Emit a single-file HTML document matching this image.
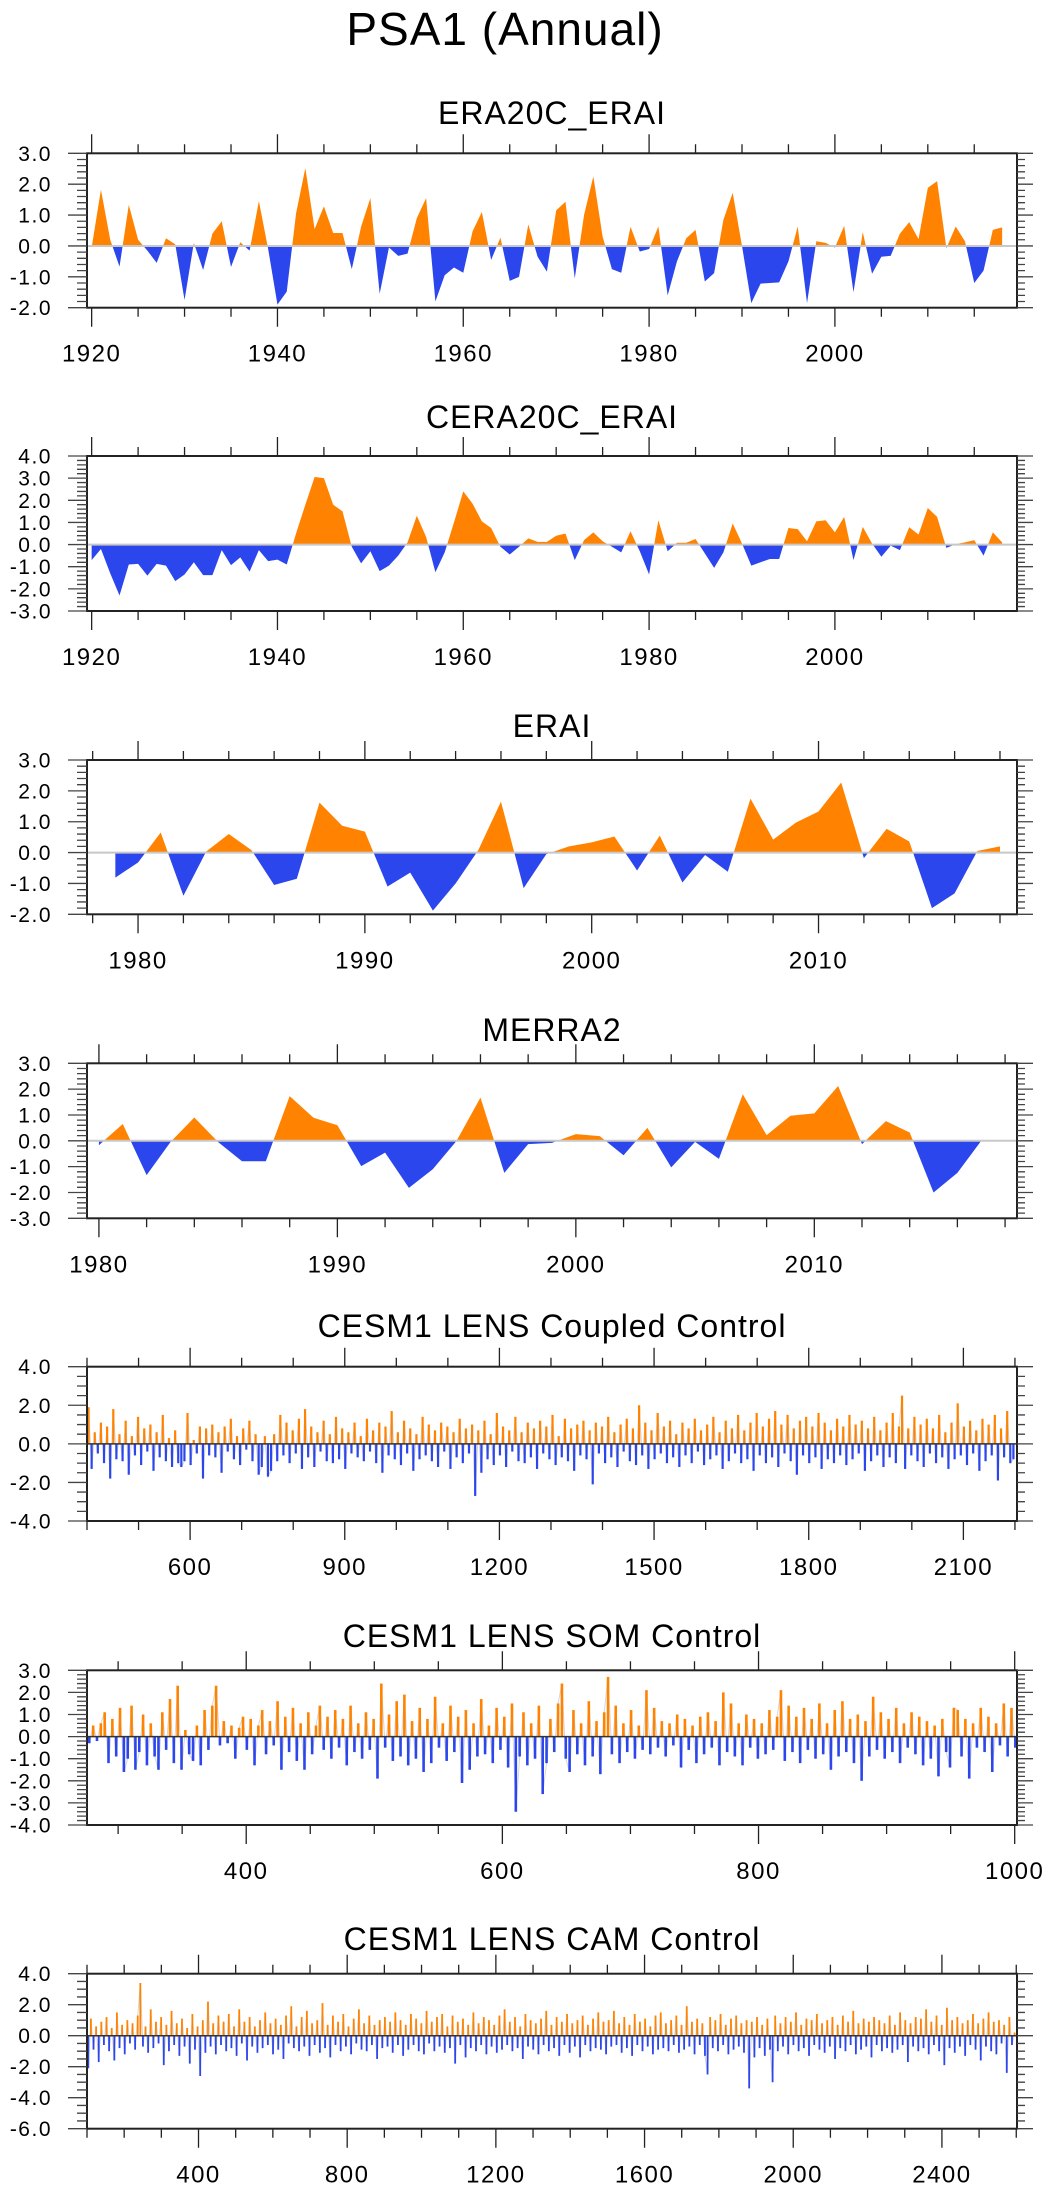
<!DOCTYPE html>
<html><head><meta charset="utf-8">
<style>
html,body{margin:0;padding:0;background:#fff;}
svg{display:block;font-family:"Liberation Sans",sans-serif;}
.ttl{font-size:32px;letter-spacing:1px;text-anchor:middle;fill:#000;}
.main{font-size:46px;letter-spacing:1px;text-anchor:middle;fill:#000;}
.yl{font-size:21px;letter-spacing:1.5px;text-anchor:end;fill:#000;}
.xl{font-size:24px;letter-spacing:1.5px;text-anchor:middle;fill:#000;}
</style></head>
<body>
<svg id="chart" width="1049" height="2192" viewBox="0 0 1049 2192" xmlns="http://www.w3.org/2000/svg">
<rect x="0" y="0" width="1049" height="2192" fill="#fff"/>
<text class="main" x="505" y="45">PSA1 (Annual)</text>
<text class="ttl" x="552" y="124">ERA20C_ERAI</text>
<text class="ttl" x="552" y="428">CERA20C_ERAI</text>
<text class="ttl" x="552" y="737">ERAI</text>
<text class="ttl" x="552" y="1041">MERRA2</text>
<text class="ttl" x="552" y="1337">CESM1 LENS Coupled Control</text>
<text class="ttl" x="552" y="1647">CESM1 LENS SOM Control</text>
<text class="ttl" x="552" y="1950">CESM1 LENS CAM Control</text>
</svg>
<script>
// ---- data ----
const era20cStart = 1920;
const era20cVals = [-0.05,1.82,0.2,-0.67,1.33,0.2,-0.15,-0.55,0.25,0.05,-1.75,0.1,-0.78,0.4,0.8,-0.68,0.12,-0.15,1.45,-0.1,-1.9,-1.48,1.05,2.52,0.55,1.28,0.42,0.42,-0.75,0.62,1.55,-1.55,-0.05,-0.32,-0.25,0.9,1.55,-1.8,-0.95,-0.7,-0.87,0.47,1.1,-0.45,0.27,-1.13,-1.0,0.7,-0.35,-0.83,1.15,1.43,-1.05,1.0,2.25,0.3,-0.75,-0.87,0.62,-0.18,-0.1,0.63,-1.6,-0.5,0.25,0.52,-1.15,-0.88,0.85,1.72,0.0,-1.85,-1.22,-1.2,-1.18,-0.5,0.63,-1.85,0.15,0.1,-0.05,0.65,-1.5,0.45,-0.9,-0.35,-0.32,0.4,0.77,0.22,1.88,2.1,-0.07,0.63,0.15,-1.2,-0.8,0.52,0.6];
const era20cXTicks = [1920,1940,1960,1980,2000];
const era20cYTicks = [-2,-1,0,1,2,3];

const cera20cStart = 1920;
const cera20cVals = [-0.7,-0.2,-1.3,-2.3,-0.9,-0.87,-1.4,-0.87,-0.95,-1.65,-1.35,-0.8,-1.38,-1.38,-0.25,-0.93,-0.58,-1.22,-0.25,-0.75,-0.68,-0.9,0.5,1.8,3.05,3.0,1.8,1.5,-0.1,-0.85,-0.3,-1.2,-0.95,-0.5,0.1,1.3,0.35,-1.25,-0.35,1.0,2.4,1.85,1.05,0.75,-0.1,-0.45,-0.1,0.28,0.12,0.12,0.4,0.5,-0.7,0.2,0.55,0.15,-0.1,-0.35,0.6,-0.3,-1.35,1.1,-0.3,0.08,0.08,0.25,-0.4,-1.05,-0.35,0.95,0.05,-0.95,-0.8,-0.65,-0.65,0.75,0.7,0.15,1.05,1.1,0.55,1.25,-0.7,0.8,0.05,-0.55,-0.05,-0.25,0.78,0.45,1.65,1.25,-0.15,0.02,0.1,0.2,-0.5,0.55,0.1];
const cera20cXTicks = [1920,1940,1960,1980,2000];
const cera20cYTicks = [-3,-2,-1,0,1,2,3,4];

const eraiStart = 1979;
const eraiVals = [-0.81,-0.32,0.65,-1.4,0.03,0.6,0.08,-1.05,-0.85,1.62,0.87,0.68,-1.1,-0.65,-1.88,-1.0,0.08,1.65,-1.15,-0.05,0.2,0.33,0.52,-0.58,0.55,-0.97,-0.08,-0.62,1.75,0.42,0.97,1.33,2.27,-0.18,0.77,0.36,-1.8,-1.32,0.05,0.2];
const eraiXTicks = [1980,1990,2000,2010];
const eraiYTicks = [-2,-1,0,1,2,3];

const merra2Start = 1980;
const merra2Vals = [-0.17,0.65,-1.33,-0.05,0.9,-0.05,-0.79,-0.79,1.73,0.89,0.6,-0.98,-0.46,-1.82,-1.1,0.0,1.67,-1.24,-0.13,-0.08,0.26,0.18,-0.56,0.5,-1.03,-0.04,-0.7,1.8,0.22,0.97,1.06,2.12,-0.13,0.76,0.32,-2.0,-1.24,0.0];
const merra2XTicks = [1980,1990,2000,2010];
const merra2YTicks = [-3,-2,-1,0,1,2,3];

const coupledStart = 400, coupledStep = 6;
const coupledVals = [1.9,-1.3,0.6,-0.5,1.1,-1.0,0.9,-1.8,1.8,-0.8,0.5,-0.9,1.2,-1.6,0.4,-0.6,1.4,-1.1,0.8,-0.4,
1.0,-1.4,0.6,-0.7,1.5,-0.9,0.3,-1.2,0.7,-1.0,-1.2,-0.9,1.6,-1.1,0.2,-0.5,0.9,-1.8,0.8,-0.6,
1.0,-0.7,0.6,-1.5,0.9,-0.4,1.3,-0.8,0.4,-1.1,0.8,-0.3,1.2,-0.9,0.5,-1.6,-1.2,0.4,-1.7,-1.4,
0.5,-0.9,1.5,-0.6,1.1,-1.0,0.7,-0.5,1.3,-1.3,1.8,-0.7,0.9,-1.2,0.6,-0.4,1.2,-0.9,0.5,-1.0,
1.4,-0.8,0.8,-1.3,0.6,-0.5,1.1,-0.7,0.4,-0.9,1.3,-0.4,0.7,-1.0,1.1,-1.5,0.9,-0.6,1.7,-0.8,
0.6,-1.1,1.2,-0.5,0.8,-1.4,0.5,-0.8,1.4,-0.6,1.0,-0.9,0.7,-1.2,1.1,-0.4,0.9,-1.3,0.6,-0.7,
1.3,-1.0,0.8,-0.5,1.0,-2.7,0.7,-1.5,1.2,-0.8,0.5,-1.1,1.6,-0.6,0.9,-1.2,0.7,-0.4,1.4,-0.9,
0.6,-1.0,1.1,-0.7,0.8,-1.3,1.2,-0.5,0.9,-0.8,1.5,-1.1,0.4,-0.7,1.3,-0.9,0.8,-1.4,1.0,-0.6,
1.2,-0.8,0.7,-2.1,1.1,-0.5,0.9,-1.0,1.4,-0.7,0.6,-1.2,1.0,-0.4,1.3,-0.9,0.8,-1.1,2.0,-0.6,
1.1,-1.3,0.7,-0.8,1.6,-0.5,0.9,-1.0,1.2,-0.7,0.5,-1.2,1.1,-0.6,0.8,-1.0,1.3,-0.4,0.7,-1.1,
1.0,-0.8,1.4,-0.6,0.6,-1.3,1.2,-0.9,0.8,-0.5,1.5,-1.0,0.7,-0.8,1.1,-1.4,1.6,-0.6,0.9,-1.0,
1.3,-0.7,1.7,-1.2,1.0,-0.5,1.5,-0.9,0.8,-1.6,1.2,-0.6,1.4,-1.0,0.9,-0.7,1.6,-1.3,1.1,-0.8,
0.7,-1.0,1.3,-0.6,0.9,-1.1,1.5,-0.8,1.0,-0.5,1.2,-1.4,0.8,-0.9,1.4,-0.6,0.7,-1.2,1.1,-0.7,
1.6,-1.0,0.9,2.5,-1.3,0.8,-0.6,1.4,-0.9,1.0,-1.2,1.3,-0.5,0.8,-1.0,1.5,-0.7,0.6,-1.3,1.1,
-0.8,2.1,-0.6,0.9,-1.1,1.2,-0.5,0.7,-1.4,1.3,-0.9,1.0,-0.6,1.5,-1.9,0.8,-0.7,1.7,-1.0,-0.8];
const coupledXTicks = [600,900,1200,1500,1800,2100];
const coupledYTicks = [-4,-2,0,2,4];

const somStart = 276, somStep = 3;
const somVals = [-0.3,0.5,-0.2,0.6,1.1,-1.2,0.8,-0.9,1.3,-1.6,-1.0,1.4,-1.5,-0.7,1.0,-1.3,0.6,-0.9,-1.5,1.1,
-0.6,1.7,-1.2,2.3,-1.5,0.3,-0.8,-1.1,0.5,-1.3,1.2,-0.6,1.4,2.3,-0.4,0.7,-0.3,0.5,-1.0,0.4,
0.9,-0.6,0.8,-1.3,0.5,1.2,-0.8,0.7,-0.4,1.6,-1.5,0.9,-0.7,1.3,-1.1,0.6,-1.5,1.1,-0.8,0.5,
1.4,-0.6,0.9,-1.0,1.2,-0.5,0.8,-1.3,1.4,-0.7,0.6,-1.0,1.1,-0.6,0.8,-1.9,2.4,-0.5,1.0,-1.1,
1.6,-0.9,1.9,-1.3,0.7,-1.0,1.3,-1.6,0.8,-1.2,1.8,-0.5,0.6,-1.1,1.4,-0.7,0.9,-2.1,1.2,-1.5,
0.6,-0.9,1.7,-0.8,0.5,-1.2,1.3,-0.6,0.9,-1.4,1.5,-3.4,-0.9,1.1,-1.3,0.6,-1.0,1.4,-2.6,-1.2,
0.8,-0.7,1.5,2.4,-1.0,-1.6,1.2,-0.8,0.6,-1.3,1.6,-0.9,0.7,-1.7,1.1,2.7,-0.8,1.4,-1.2,0.6,
-0.7,1.2,-1.0,0.5,-0.6,2.1,-0.8,1.3,-0.5,0.7,-0.9,0.6,-0.4,1.0,-1.4,0.8,-0.6,0.5,-1.2,0.9,
-0.8,1.1,-0.5,0.7,-1.3,2.0,-0.7,1.5,-0.9,0.6,-1.3,1.0,-0.5,0.8,-1.0,0.6,-0.8,1.2,-0.6,0.9,
2.1,-1.1,1.4,-0.7,0.9,-1.2,1.3,-0.6,0.8,-1.0,1.5,-0.8,0.6,-1.5,1.2,-0.9,1.6,-0.7,0.8,-1.2,
1.0,-2.0,0.7,-0.9,1.8,-0.6,1.1,-1.0,0.8,-0.7,1.3,-1.2,0.6,-0.5,1.1,-0.8,0.9,-1.3,0.7,-1.0,
0.5,-1.8,0.8,-0.7,-1.4,1.3,1.2,-0.9,0.8,-1.9,0.6,-0.5,1.3,-0.7,0.9,-1.6,0.6,-0.4,1.5,-0.9,1.3,-0.5];
const somXTicks = [400,600,800,1000];
const somYTicks = [-4,-3,-2,-1,0,1,2,3];

const camStart = 100, camStep = 7;
const camVals = [-2.1,1.1,-0.9,0.6,-1.7,0.9,-0.6,1.2,-1.0,0.5,-1.6,1.5,-0.8,0.7,-1.2,1.0,-0.5,0.8,-0.9,1.3,
3.4,-0.7,0.6,-1.1,1.7,-0.8,0.9,-0.5,1.2,-1.9,0.7,-1.0,1.6,-0.6,0.8,-1.3,1.1,-0.7,0.5,-1.8,
1.4,-0.9,0.6,-2.6,1.0,-1.1,2.2,-0.7,0.8,-1.2,1.3,-0.6,0.9,-1.0,1.4,-0.8,0.6,-1.3,1.7,-0.5,
0.9,-1.6,1.2,-0.7,0.6,-1.1,1.0,-0.8,1.5,-0.6,0.8,-1.2,1.1,-0.9,0.7,-1.5,1.3,-0.5,1.9,-0.8,
0.6,-1.0,1.2,-0.7,1.6,-1.3,0.8,-0.6,1.0,-1.1,2.1,-0.8,0.7,-1.4,1.3,-0.6,0.9,-1.0,1.4,-0.7,
0.6,-1.2,1.1,-0.5,1.7,-0.9,0.8,-1.0,1.3,-0.6,0.7,-1.5,1.0,-0.8,1.2,-0.7,0.9,-1.1,1.5,-0.6,
1.0,-1.3,0.7,-0.9,1.4,-0.6,1.1,-1.0,0.8,-1.2,1.6,-0.5,0.9,-1.0,1.2,-0.7,1.4,-1.1,0.6,-0.8,
1.3,-1.8,0.9,-0.6,1.1,-1.4,0.7,-0.8,1.5,-1.0,0.8,-0.6,1.2,-1.2,1.0,-0.7,0.7,-1.1,1.3,-0.9,
1.7,-0.6,0.9,-1.0,1.2,-0.8,0.6,-1.5,1.4,-0.7,1.0,-0.9,0.8,-1.2,1.1,-0.6,1.6,-1.0,0.7,-0.8,
1.2,-1.3,0.9,-0.6,1.4,-1.1,0.8,-0.7,1.0,-1.4,1.3,-0.6,0.7,-1.0,1.1,-0.8,1.5,-0.9,0.9,-1.2,
1.0,-0.7,1.6,-0.6,0.8,-1.1,1.2,-0.8,0.7,-1.3,1.4,-0.6,0.9,-1.0,1.1,-0.7,0.6,-1.2,1.3,-0.9,
1.5,-0.8,0.8,-1.0,1.0,-0.6,1.3,-1.1,0.7,-0.9,1.9,-0.7,0.9,-1.2,1.1,-0.6,0.8,-1.3,-2.5,1.2,
-0.8,1.0,-1.0,1.4,-0.6,0.7,-1.2,1.1,-0.9,1.3,-0.7,0.8,-1.1,1.0,-3.4,0.9,-1.4,1.2,-0.8,0.7,
-1.3,1.1,-0.9,-3.0,1.3,-1.0,0.8,-0.7,1.2,-1.2,0.9,-0.6,1.5,-1.0,0.7,-0.8,1.1,-1.3,1.0,-0.6,
1.4,-0.9,0.8,-1.1,1.0,-0.7,1.2,-1.5,0.7,-0.8,1.3,-1.0,0.9,-0.6,1.6,-1.2,0.8,-0.9,1.1,-0.7,
0.9,-1.4,1.2,-0.6,1.0,-1.0,0.8,-0.8,1.3,-1.1,0.7,-0.9,1.5,-0.6,1.0,-1.7,0.8,-0.7,1.2,-1.0,
1.1,-0.8,1.7,-1.2,0.9,-0.6,1.3,-1.0,0.7,-1.9,1.8,-0.8,1.0,-1.1,1.2,-0.7,0.8,-1.3,1.0,-0.6,
1.4,-0.9,0.8,-1.6,1.1,-0.7,1.5,-1.0,0.9,-1.2,1.0,-0.5,0.7,-2.4,1.2,-0.6,0.2];
const camXTicks = [400,800,1200,1600,2000,2400];
const camYTicks = [-6,-4,-2,0,2,4];

// ---- drawing ----
const NS = "http://www.w3.org/2000/svg";
const svg = document.getElementById("chart");
const ORANGE = "#ff8200", BLUE = "#2b46ed";
const L = 87, R = 1017;

function mk(tag, attrs, parent) {
  const e = document.createElementNS(NS, tag);
  for (const k in attrs) e.setAttribute(k, attrs[k]);
  (parent || svg).appendChild(e);
  return e;
}

function drawPanel(p) {
  const g = mk("g", {});
  
  
  const xS = v => L + (v - p.xmin) / (p.xmax - p.xmin) * (R - L);
  const yS = v => p.bottom - (v - p.ymin) / (p.ymax - p.ymin) * (p.bottom - p.top);
  const y0 = yS(0);
  const n = p.vals.length;
  const t = i => p.start + i * p.step;

  if (p.kind === "area") {
    const pts = [];
    for (let i = 0; i < n; i++) {
      if (i > 0) {
        const a = p.vals[i - 1], b = p.vals[i];
        if ((a > 0 && b < 0) || (a < 0 && b > 0)) {
          const f = a / (a - b);
          pts.push([t(i - 1) + f * p.step, 0]);
        }
      }
      pts.push([t(i), p.vals[i]]);
    }
    const build = clamp => {
      let s = xS(pts[0][0]).toFixed(2) + "," + y0.toFixed(2);
      for (const q of pts) s += " " + xS(q[0]).toFixed(2) + "," + yS(clamp(q[1])).toFixed(2);
      s += " " + xS(pts[pts.length - 1][0]).toFixed(2) + "," + y0.toFixed(2);
      return s;
    };
    const pos = mk("polygon", {points: build(v => Math.max(v, 0)), fill: ORANGE}, g);
    
    
    const neg = mk("polygon", {points: build(v => Math.min(v, 0)), fill: BLUE}, g);
    
    
    const zl = mk("line", {x1: L, x2: R, y1: y0, y2: y0, stroke: "#c8c8c8", "stroke-width": 2}, g);
    
    
  } else {
    let s = "";
    for (let i = 0; i < n; i++) s += (i ? " " : "") + xS(t(i) + p.step / 2).toFixed(2) + "," + yS(p.vals[i]).toFixed(2);
    const gl = mk("polyline", {points: s, fill: "none", stroke: "#d6d6d6", "stroke-width": 1}, g);
    
    
    for (let i = 0; i < n; i++) {
      const v = p.vals[i];
      const x = xS(t(i) + p.step / 2);
      const b = mk("line", {x1: x, x2: x, y1: y0, y2: yS(v), stroke: v >= 0 ? ORANGE : BLUE, "stroke-width": p.barW}, g);
      
      
    }
    const zl = mk("line", {x1: L, x2: R, y1: y0, y2: y0, stroke: "#333", "stroke-width": 1.5}, g);
    
    
  }

  const fr = mk("rect", {x: L, y: p.top, width: R - L, height: p.bottom - p.top, fill: "none", stroke: "#222", "stroke-width": 2}, g);
  
  

  let d = "";
  const first = Math.ceil(p.xmin / p.xMinor) * p.xMinor;
  for (let v = first; v <= p.xmax + 1e-9; v += p.xMinor) {
    const x = xS(v).toFixed(2);
    const major = p.xTicks.indexOf(Math.round(v)) >= 0;
    const len = major ? 19 : 9;
    d += "M" + x + "," + p.bottom + "v" + len + "M" + x + "," + p.top + "v" + (-len);
  }
  const xt = mk("path", {d: d, stroke: "#222", "stroke-width": 1.3, fill: "none"}, g);
  
  

  d = "";
  const yfirst = Math.ceil(p.ymin / p.yMinor - 1e-9) * p.yMinor;
  for (let v = yfirst; v <= p.ymax + 1e-9; v += p.yMinor) {
    const y = yS(v).toFixed(2);
    const major = p.yTicks.some(m => Math.abs(m - v) < 1e-6);
    d += "M" + L + "," + y + "h" + (major ? -19 : -10) + "M" + R + "," + y + "h" + (major ? 16 : 8);
  }
  const yt = mk("path", {d: d, stroke: "#444", "stroke-width": 1.3, fill: "none"}, g);
  
  

  for (const v of p.yTicks) {
    const tx = mk("text", {x: 52, y: (yS(v) + 7.5).toFixed(2), class: "yl"}, g);
    tx.textContent = v.toFixed(1);
    
    
  }
  for (const v of p.xTicks) {
    const tx = mk("text", {x: xS(v).toFixed(2), y: p.bottom + 54, class: "xl"}, g);
    tx.textContent = String(v);
    
    
  }
}

drawPanel({name: "era20c-erai", kind: "area", top: 153.3, bottom: 307.7, ymin: -2, ymax: 3, xmin: 1919.5, xmax: 2019.6,
  vals: era20cVals, start: era20cStart, step: 1, xTicks: era20cXTicks, xMinor: 5, yTicks: era20cYTicks, yMinor: 0.2});
drawPanel({name: "cera20c-erai", kind: "area", top: 456, bottom: 611, ymin: -3, ymax: 4, xmin: 1919.5, xmax: 2019.6,
  vals: cera20cVals, start: cera20cStart, step: 1, xTicks: cera20cXTicks, xMinor: 5, yTicks: cera20cYTicks, yMinor: 0.2});
drawPanel({name: "erai", kind: "area", top: 760, bottom: 914.3, ymin: -2, ymax: 3, xmin: 1977.75, xmax: 2018.75,
  vals: eraiVals, start: eraiStart, step: 1, xTicks: eraiXTicks, xMinor: 2, yTicks: eraiYTicks, yMinor: 0.2});
drawPanel({name: "merra2", kind: "area", top: 1063.3, bottom: 1218.3, ymin: -3, ymax: 3, xmin: 1979.5, xmax: 2018.5,
  vals: merra2Vals, start: merra2Start, step: 1, xTicks: merra2XTicks, xMinor: 2, yTicks: merra2YTicks, yMinor: 0.2});
drawPanel({name: "coupled-control", kind: "bar", barW: 2.2, top: 1366.7, bottom: 1521, ymin: -4, ymax: 4, xmin: 400, xmax: 2204,
  vals: coupledVals, start: coupledStart, step: coupledStep, xTicks: coupledXTicks, xMinor: 100, yTicks: coupledYTicks, yMinor: 0.5});
drawPanel({name: "som-control", kind: "bar", barW: 2.6, top: 1670.3, bottom: 1825, ymin: -4, ymax: 3, xmin: 275.7, xmax: 1001.8,
  vals: somVals, start: somStart, step: somStep, xTicks: somXTicks, xMinor: 50, yTicks: somYTicks, yMinor: 0.2});
drawPanel({name: "cam-control", kind: "bar", barW: 1.8, top: 1973.7, bottom: 2128.7, ymin: -6, ymax: 4, xmin: 100, xmax: 2602,
  vals: camVals, start: camStart, step: camStep, xTicks: camXTicks, xMinor: 100, yTicks: camYTicks, yMinor: 0.5});
</script>
</body></html>
